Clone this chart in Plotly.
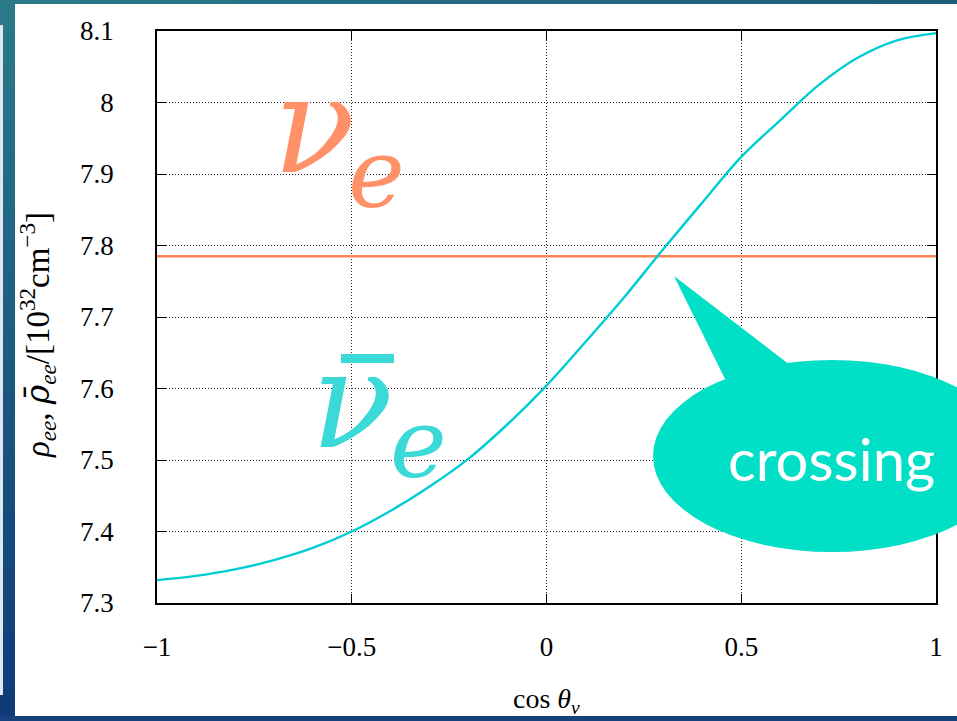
import plotly.graph_objects as go

# ---- data -------------------------------------------------------------
cos_theta = [-1.0, -0.9, -0.8, -0.7, -0.6, -0.5, -0.4, -0.3, -0.2, -0.1, 0.0,
             0.1, 0.2, 0.3, 0.4, 0.5, 0.6, 0.7, 0.8, 0.9, 1.0]
rho_bar_ee = [7.332, 7.338, 7.347, 7.360, 7.377, 7.400, 7.429, 7.463, 7.502, 7.550, 7.604,
              7.665, 7.728, 7.795, 7.860, 7.924, 7.975, 8.025, 8.063, 8.087, 8.097]
cos_theta_flat = [-1.0, 1.0]
rho_ee = [7.785, 7.785]

x_tickvals = [-1, -0.5, 0, 0.5, 1]
x_ticktext = ["\u22121", "\u22120.5", "0", "0.5", "1"]
y_tickvals = [7.3, 7.4, 7.5, 7.6, 7.7, 7.8, 7.9, 8.0, 8.1]
y_ticktext = ["7.3", "7.4", "7.5", "7.6", "7.7", "7.8", "7.9", "8", "8.1"]

# ---- geometry helpers (page pixels -> paper coordinates) ---------------
W, H = 957, 721
L, R, T, B = 157, 21, 31, 118
PW, PH = W - L - R, H - T - B


def px(xp):
    return (xp - L) / PW


def py(yp):
    return (H - B - yp) / PH


ORANGE = "#FF8158"
CYAN = "#00CDD2"
SERIF = "Liberation Serif"

fig = go.Figure()
fig.add_trace(go.Scatter(x=cos_theta_flat, y=rho_ee, mode="lines",
                         line=dict(color=ORANGE, width=2.6), showlegend=False))
fig.add_trace(go.Scatter(x=cos_theta, y=rho_bar_ee, mode="lines",
                         line=dict(color=CYAN, width=2.4, shape="spline", smoothing=1.0),
                         showlegend=False))

axis_common = dict(
    ticks="inside", ticklen=9, tickwidth=1.2, tickcolor="black",
    mirror="ticks", showline=True, linecolor="black", linewidth=1.5,
    showgrid=True, gridcolor="#222222", gridwidth=1, griddash="1px,2px",
    zeroline=False, tickfont=dict(family=SERIF, size=27, color="black"),
)
fig.update_xaxes(range=[-1, 1], tickvals=x_tickvals, ticktext=x_ticktext,
                 ticklabelstandoff=19, **axis_common)
fig.update_yaxes(range=[7.3, 8.1], tickvals=y_tickvals, ticktext=y_ticktext,
                 ticklabelstandoff=36, **axis_common)

shapes = []

# slide frame: gradient band on the left, thin bands at top and bottom
def lerp(c0, c1, t):
    return "rgb(%d,%d,%d)" % tuple(round(a + (b - a) * t) for a, b in zip(c0, c1))

TEAL = (42, 122, 138)
NAVY = (14, 58, 120)
n = 24
for i in range(n):
    y0 = H * i / n
    y1 = H * (i + 1) / n + 1
    shapes.append(dict(type="rect", xref="paper", yref="paper", layer="above",
                       x0=px(0), x1=px(15), y0=py(y1), y1=py(y0),
                       line=dict(width=0), fillcolor=lerp(TEAL, NAVY, (i + 0.5) / n)))
shapes.append(dict(type="rect", xref="paper", yref="paper", layer="above",
                   x0=px(0), x1=px(3), y0=py(695), y1=py(25),
                   line=dict(width=0), fillcolor="#dfe7ee"))
m = 12
for i in range(m):
    x0 = W * i / m
    x1 = W * (i + 1) / m + 1
    shapes.append(dict(type="rect", xref="paper", yref="paper", layer="above",
                       x0=px(x0), x1=px(x1), y0=py(4), y1=py(0),
                       line=dict(width=0),
                       fillcolor=lerp((42, 122, 138), (30, 90, 120), (i + 0.5) / m)))
shapes.append(dict(type="rect", xref="paper", yref="paper", layer="above",
                   x0=px(0), x1=px(W), y0=py(H), y1=py(716),
                   line=dict(width=0), fillcolor="#15427c"))

# speech bubble pointing at the crossing point
BUBBLE = "#02DFC7"
shapes.append(dict(type="circle", xref="paper", yref="paper", layer="above",
                   x0=px(653), x1=px(1011), y0=py(552), y1=py(360),
                   line=dict(width=0), fillcolor=BUBBLE))
shapes.append(dict(type="path", xref="paper", yref="paper", layer="above",
                   path="M %f,%f L %f,%f L %f,%f Z" % (px(674), py(276), px(728), py(385),
                                                    px(790), py(365)),
                   line=dict(width=0), fillcolor=BUBBLE))
# bar over the antineutrino symbol
NUBAR = "#3CD9D9"
shapes.append(dict(type="rect", xref="paper", yref="paper", layer="above",
                   x0=px(341), x1=px(394), y0=py(363), y1=py(354),
                   line=dict(width=0), fillcolor=NUBAR))

NU_ORANGE = "#FF9169"
annotations = [
    dict(text="\u03bd", x=px(314), y=py(126), font=dict(family="DejaVu Serif", size=135,
                                                       color=NU_ORANGE, style="italic")),
    dict(text="e", x=px(376), y=py(174), font=dict(family="DejaVu Serif", size=96,
                                                  color=NU_ORANGE, style="italic")),
    dict(text="\u03bd", x=px(352), y=py(400), font=dict(family="DejaVu Serif", size=135,
                                                       color=NUBAR, style="italic")),
    dict(text="e", x=px(418), y=py(444), font=dict(family="DejaVu Serif", size=96,
                                                  color=NUBAR, style="italic")),
    dict(text="crossing", x=px(831), y=py(458), font=dict(family="Lato", size=58,
                                                         color="white")),
    dict(text="<i>\u03c1</i><sub><i>ee</i></sub>, "
              "<span style=\"font-family:'DejaVu Serif'\"><i>\u03c1\u0304</i></span>"
              "<sub><i>ee</i></sub>/[10<sup>32</sup>cm<sup>\u22123</sup>]",
         x=px(37), y=py(335), textangle=-90,
         font=dict(family=SERIF, size=33, color="black")),
    dict(text="cos <i>\u03b8</i><sub><i>\u03bd</i></sub>", x=px(546), y=py(700),
         font=dict(family=SERIF, size=28, color="black")),
]
for a in annotations:
    a.update(xref="paper", yref="paper", showarrow=False, xanchor="center", yanchor="middle")

fig.update_layout(
    width=W, height=H, autosize=False,
    margin=dict(l=L, r=R, t=T, b=B, pad=0),
    paper_bgcolor="white", plot_bgcolor="white",
    shapes=shapes, annotations=annotations, showlegend=False,
)

fig.write_html("out.html")
